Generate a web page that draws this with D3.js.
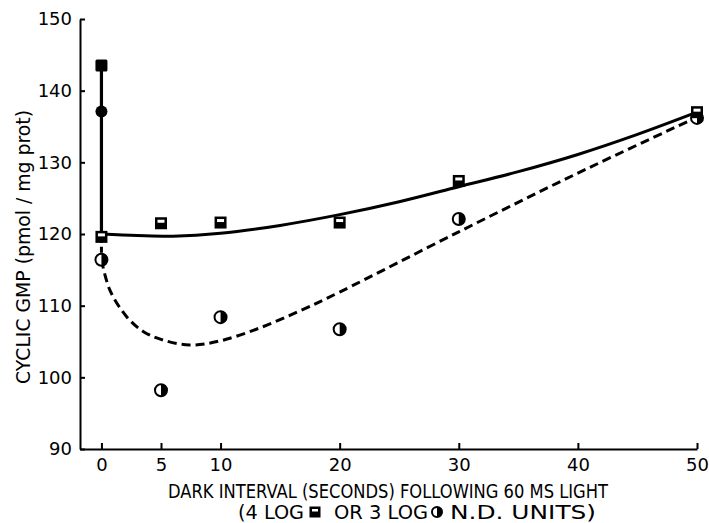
<!DOCTYPE html>
<html>
<head>
<meta charset="utf-8">
<script src="https://cdn.jsdelivr.net/npm/d3@7"></script>
<style>
  body { margin: 0; background: #fff; }
  svg text { font-family: "DejaVu Sans", sans-serif; fill: #000; }
</style>
</head>
<body>
<svg id="chart" width="709" height="523"></svg>
<script>
// points
var xTicks = [0, 5, 10, 20, 30, 40, 50];
var yTicks = [90, 100, 110, 120, 130, 140, 150];

// 4 log units (squares)
var squareDark = [[0, 143.5]];
var squareHalf = [[0, 119.6], [5, 121.5], [10, 121.6], [20, 121.6], [30, 127.4], [50, 137.0]];
// 3 log units (circles)
var circleDark = [[0, 137.1]];
var circleHalf = [[0, 116.4], [5, 98.2], [10, 108.4], [20, 106.7], [30, 122.1], [50, 136.2]];

// hand-drawn fitted curves
var solidDrop = [[0, 143.5], [0, 120.0]];
var solidCurve = [[0, 120.0], [3, 119.8], [6, 119.7], [10, 120.1], [15, 121.2], [20, 122.7],
                  [25, 124.5], [30, 126.6], [35, 128.7], [40, 131.1], [45, 133.9], [50, 137.0]];
var dashedDrop = [[0, 119.6], [0, 116.4]];
var dashedCurve = [[0, 116.4], [0.7, 112.2], [2.1, 108.5], [3.5, 106.4], [5, 105.3], [7.4, 104.5],
                   [10, 105.1], [13.3, 106.9], [16.7, 109.3], [20, 111.9], [30, 120.3],
                   [40, 128.5], [50, 136.3]];

var svg = d3.select('#chart');

var x = d3.scaleLinear().domain([-1.8, 50]).range([80, 697]);
var y = d3.scaleLinear().domain([90, 150]).range([449, 19]);

// axes, ticks pointing inward
var yAxis = svg.append('g')
    .attr('transform', 'translate(80,0)')
    .call(d3.axisLeft(y).tickValues(yTicks).tickSize(-5).tickSizeOuter(0).tickPadding(8));
yAxis.selectAll('text').style('font-size', '18px');

var xAxis = svg.append('g')
    .attr('transform', 'translate(0,449)')
    .call(d3.axisBottom(x).tickValues(xTicks).tickSize(-6).tickSizeOuter(0).tickPadding(9));
xAxis.selectAll('text').style('font-size', '18px');

svg.selectAll('.domain').attr('stroke', '#000').attr('stroke-width', 2);
svg.selectAll('.tick line').attr('stroke', '#000').attr('stroke-width', 2);

// curves
var line = d3.line().x(function(d) { return x(d[0]); }).y(function(d) { return y(d[1]); });
var smooth = d3.line().x(function(d) { return x(d[0]); }).y(function(d) { return y(d[1]); })
    .curve(d3.curveCatmullRom.alpha(0.5));

svg.append('path').attr('d', line(solidDrop))
    .attr('fill', 'none').attr('stroke', '#000').attr('stroke-width', 3.2);
svg.append('path').attr('d', smooth(solidCurve))
    .attr('fill', 'none').attr('stroke', '#000').attr('stroke-width', 3);
svg.append('path').attr('d', line(dashedDrop))
    .attr('fill', 'none').attr('stroke', '#000').attr('stroke-width', 3).attr('stroke-dasharray', '6,4');
svg.append('path').attr('d', smooth(dashedCurve))
    .attr('fill', 'none').attr('stroke', '#000').attr('stroke-width', 3).attr('stroke-dasharray', '9,5');

// markers
function halfCircle(g, cx, cy, r) {
  g.append('circle').attr('cx', cx).attr('cy', cy).attr('r', r)
      .attr('fill', '#fff').attr('stroke', '#000').attr('stroke-width', 2);
  g.append('path')
      .attr('d', 'M' + cx + ',' + (cy - r) + ' A' + r + ',' + r + ' 0 0,1 ' + cx + ',' + (cy + r) + ' Z')
      .attr('fill', '#000');
}
function halfSquare(g, cx, cy, s) {
  g.append('rect').attr('x', cx - s / 2).attr('y', cy - s / 2).attr('width', s).attr('height', s)
      .attr('fill', '#000');
  g.append('rect').attr('x', cx - s / 2 + 2.5).attr('y', cy - s / 2 + 2.5)
      .attr('width', s - 5).attr('height', s / 2 - 3).attr('fill', '#fff');
}

var marks = svg.append('g');
circleHalf.forEach(function(d) { halfCircle(marks, x(d[0]), y(d[1]), 6); });
circleDark.forEach(function(d) {
  marks.append('circle').attr('cx', x(d[0])).attr('cy', y(d[1])).attr('r', 6).attr('fill', '#000');
});
squareHalf.forEach(function(d) { halfSquare(marks, x(d[0]), y(d[1]), 12); });
squareDark.forEach(function(d) {
  marks.append('rect').attr('x', x(d[0]) - 6).attr('y', y(d[1]) - 6)
      .attr('width', 12).attr('height', 12).attr('rx', 1.5).attr('fill', '#000');
});

// axis titles
svg.append('text')
    .attr('transform', 'translate(30,247) rotate(-90)')
    .attr('text-anchor', 'middle')
    .style('font-size', '19px')
    .text('CYCLIC GMP (pmol / mg prot)')
    .attr('textLength', 274).attr('lengthAdjust', 'spacingAndGlyphs');

svg.append('text')
    .attr('x', 388).attr('y', 498)
    .attr('text-anchor', 'middle')
    .style('font-size', '19px')
    .text('DARK INTERVAL (SECONDS) FOLLOWING 60 MS LIGHT')
    .attr('textLength', 440).attr('lengthAdjust', 'spacingAndGlyphs');

var leg = svg.append('g').style('font-size', '19px');
leg.append('text').attr('x', 238).attr('y', 519).text('(4 LOG')
    .attr('textLength', 66).attr('lengthAdjust', 'spacingAndGlyphs');
halfSquare(leg, 315, 512, 11);
leg.append('text').attr('x', 334).attr('y', 519).text('OR 3 LOG')
    .attr('textLength', 94).attr('lengthAdjust', 'spacingAndGlyphs');
halfCircle(leg, 437, 512, 5);
leg.append('text').attr('x', 450).attr('y', 519).text('N.D. UNITS)')
    .attr('textLength', 146).attr('lengthAdjust', 'spacingAndGlyphs');
</script>
</body>
</html>
